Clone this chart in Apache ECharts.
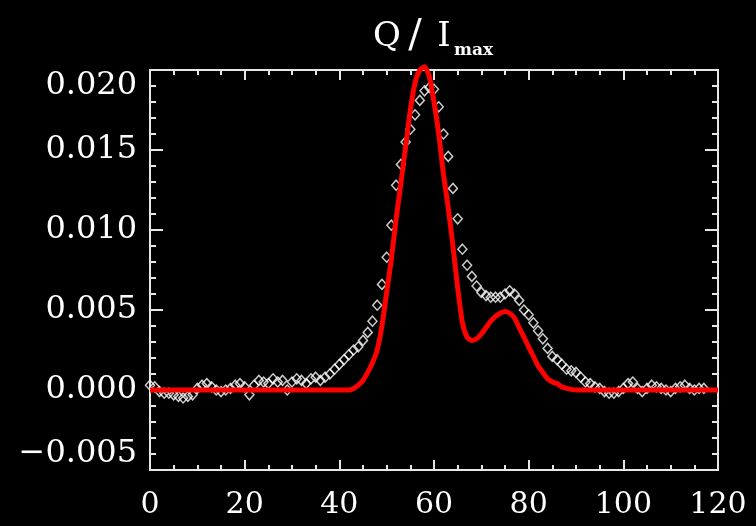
<!DOCTYPE html>
<html><head><meta charset="utf-8">
<script src="https://cdn.jsdelivr.net/npm/echarts@6/dist/echarts.min.js"></script>
<style>html,body{margin:0;padding:0;background:#000}#c{width:756px;height:526px}</style>
</head><body><div id="c"></div>
<script>
// Observed data (diamonds)
const obsX = [0,1,2,3,4,5,6,7,8,9,10,11,12,13,14,15,16,17,18,19,20,21,22,23,24,25,26,27,28,29,30,31,32,33,34,35,36,37,38,39,40,41,42,43,44,45,46,47,48,49,50,51,52,53,54,55,56,57,58,59,60,61,62,63,64,65,66,67,68,69,70,71,72,73,74,75,76,77,78,79,80,81,82,83,84,85,86,87,88,89,90,91,92,93,94,95,96,97,98,99,100,101,102,103,104,105,106,107,108,109,110,111,112,113,114,115,116,117];
const obsY = [0.0003,0.0002,-0.0001,-0.0002,-0.0002,-0.0003,-0.0004,-0.0005,-0.0004,-0.0003,
  0.0001,0.0003,0.0004,0.0002,0.0000,-0.0001,0.0000,0.0001,0.0003,0.0004,
  0.0002,-0.0003,0.0003,0.0006,0.0005,0.0004,0.0007,0.0005,0.0006,0.0000,
  0.0005,0.0007,0.0006,0.0004,0.0007,0.0008,0.0006,0.0008,0.0010,0.0013,
  0.0016,0.0019,0.0022,0.0025,0.0027,0.0031,0.0036,0.0043,0.0053,0.0066,
  0.0083,0.0103,0.0128,0.0141,0.0155,0.0163,0.0172,0.0181,0.0187,0.0189,
  0.0188,0.0177,0.0160,0.0146,0.0126,0.0107,0.0088,0.0078,0.0071,0.0065,
  0.0061,0.0059,0.0058,0.0058,0.0058,0.0060,0.0062,0.0060,0.0056,0.0050,
  0.0047,0.0042,0.0037,0.0032,0.0026,0.0021,0.0019,0.0016,0.0013,0.0012,
  0.0011,0.0008,0.0005,0.0004,0.0002,0.0001,-0.0001,-0.0002,-0.0002,-0.0001,
  0.0001,0.0004,0.0005,0.0001,-0.0001,0.0001,0.0003,0.0002,0.0001,0.0000,
  -0.0001,0.0001,0.0002,0.0003,0.0001,0.0000,0.0001,0.0001];
// Model curve (red)
const modelX = [0,10,20,30,40,42,43,44,45,46,47,48,49,50,51,52,53,54,55,56,57,58,59,60,61,62,63,64,65,66,67,68,69,70,71,72,73,74,75,76,77,78,79,80,81,82,83,84,85,86,87,88,90,100,110,120];
const modelY = [0,0,0,0,0,0,0.0001,0.0003,0.0006,0.0011,0.0017,0.0025,0.0040,0.0061,0.0082,0.0107,0.0129,0.0152,0.0175,0.0192,0.0200,0.0202,0.0196,0.0180,0.0160,0.0135,0.0114,0.0090,0.0064,0.0042,0.0033,0.0031,0.0032,0.0035,0.0039,0.0043,0.0046,0.0048,0.0049,0.0048,0.0045,0.0039,0.0033,0.0027,0.0021,0.0015,0.0011,0.0007,0.0005,0.0004,0.0002,0.0001,0,0,0,0];
const xTicks = [0,20,40,60,80,100,120];
const yTicks = [-0.005,0.000,0.005,0.010,0.015,0.020];
const titleParts = ['Q','/','I'];
const titleSub = 'max';

const chart = echarts.init(document.getElementById('c'), null, {renderer:'canvas'});
const FONT = 'DejaVu Serif';
const AX = '#e6e6e6';
function axisCommon(len, mlen, split) {
  return {
    axisLine:{show:true, onZero:false, lineStyle:{color:AX, width:2}},
    axisTick:{show:true, inside:true, length:len, lineStyle:{color:AX, width:2}},
    minorTick:{show:true, splitNumber:split, length:mlen, lineStyle:{color:AX, width:2}},
    splitLine:{show:false}, minorSplitLine:{show:false}
  };
}
const xBase = {type:'value', min:xTicks[0], max:xTicks[xTicks.length-1], interval:20};
const yBase = {type:'value', min:yTicks[0], max:yTicks[yTicks.length-1], interval:0.005};
const titleX = [387, 415, 444];
const titleFont = ['34px "DejaVu Serif"', '40px "DejaVu Serif"', '34px "DejaVu Serif"'];
chart.setOption({
  backgroundColor:'#000',
  animation:false,
  grid:{left:150, right:38, top:70, bottom:56, containLabel:false},
  xAxis:[
    Object.assign({}, xBase, axisCommon(10,5,4), {position:'bottom',
      axisLabel:{show:true, color:'#fff', fontFamily:FONT, fontSize:30, margin:20,
        formatter:v=>String(v)}}),
    Object.assign({}, xBase, axisCommon(10,5,4), {position:'top', axisLabel:{show:false}})
  ],
  yAxis:[
    Object.assign({}, yBase, axisCommon(13,6,5), {position:'left',
      axisLabel:{show:true, color:'#fff', fontFamily:FONT, fontSize:32, margin:13,
        verticalAlignMinLabel:'bottom', verticalAlignMaxLabel:'top',
        formatter:v=>{const s=Math.abs(v).toFixed(3); return (v< -1e-9?'\u2212':'')+s;}}}),
    Object.assign({}, yBase, axisCommon(13,6,5), {position:'right', axisLabel:{show:false}})
  ],
  graphic:titleParts.map((t,i)=>({type:'text', x:titleX[i], y:37,
      style:{text:t, fill:'#fff', font:titleFont[i], textAlign:'center', verticalAlign:'middle'}}))
    .concat([{type:'text', x:454, y:51, style:{text:titleSub, fill:'#fff', font:'bold 17px "DejaVu Serif"', textAlign:'left', verticalAlign:'middle'}}]),
  series:[
    {type:'scatter', xAxisIndex:0, yAxisIndex:0, symbol:'diamond', symbolSize:[9,10],
      itemStyle:{color:'rgba(0,0,0,0)', borderColor:'#fff', borderWidth:1.5},
      data:obsX.map((x,i)=>[x,obsY[i]]), z:2, silent:true},
    {type:'line', xAxisIndex:0, yAxisIndex:0, showSymbol:false, smooth:0.2,
      lineStyle:{color:'#ff0000', width:5}, data:modelX.map((x,i)=>[x,modelY[i]]), z:3, silent:true, clip:false}
  ]
});
</script></body></html>
